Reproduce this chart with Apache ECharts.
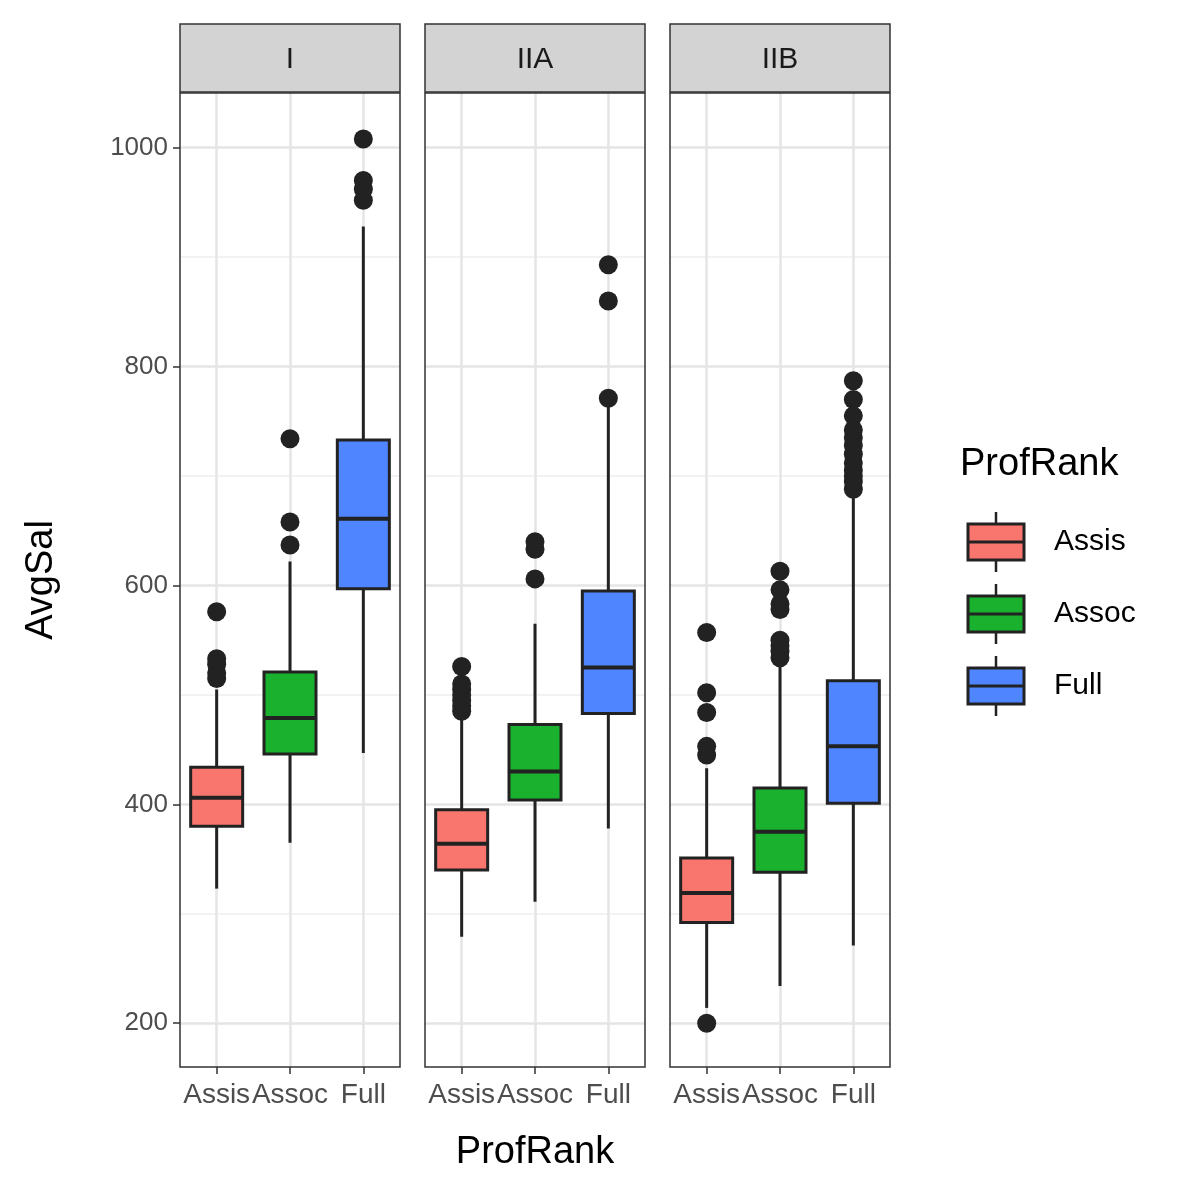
<!DOCTYPE html>
<html>
<head>
<meta charset="UTF-8">
<script src="https://cdn.jsdelivr.net/npm/echarts@6/dist/echarts.min.js"></script>
</head>
<body style="margin:0">
<div id="main" style="width:1200px;height:1200px"></div>
<script>
var panels = ['I', 'IIA', 'IIB'];
var ranks = ['Assis', 'Assoc', 'Full'];
var colors = ['#F8766D', '#1AB12F', '#4F86FF'];
var majorTicks = [200, 400, 600, 800, 1000];
var minorTicks = [300, 500, 700, 900];
// [low, q1, median, q3, high] per rank, per panel
var boxI = [[323, 380, 406, 434, 505], [365, 446, 479, 521, 622], [447, 597, 661, 733, 928]];
var boxIIA = [[279, 340, 364, 395, 480], [311, 404, 430, 473, 565], [378, 483, 525, 595, 765]];
var boxIIB = [[214, 292, 319, 351, 433], [234, 338, 375, 415, 528], [271, 401, 453, 513, 680]];
var outI = [[515, 520, 528, 533, 576], [637, 658, 734], [952, 962, 970, 1008]];
var outIIA = [[485, 490, 495, 500, 505, 510, 526], [606, 633, 640], [771, 860, 893]];
var outIIB = [[200, 445, 453, 484, 502, 557], [534, 540, 545, 550, 578, 583, 596, 613], [688, 695, 700, 705, 712, 720, 728, 735, 742, 755, 770, 787]];
var boxes = [boxI, boxIIA, boxIIB];
var outs = [outI, outIIA, outIIB];

var lefts = [180, 425, 670];
var grids = [], xAxes = [], yAxes = [], series = [], graphics = [];

function renderBox(params, api) {
  var x = api.value(0);
  var lo = api.coord([x, api.value(1)]), q1 = api.coord([x, api.value(2)]),
      md = api.coord([x, api.value(3)]), q3 = api.coord([x, api.value(4)]),
      hi = api.coord([x, api.value(5)]);
  var w = 52, cx = lo[0];
  var st = {stroke: '#222', lineWidth: 3};
  return {type: 'group', children: [
    {type: 'line', shape: {x1: cx, y1: lo[1], x2: cx, y2: hi[1]}, style: st},
    {type: 'rect', shape: {x: cx - w / 2, y: q3[1], width: w, height: q1[1] - q3[1]},
      style: {fill: colors[x], stroke: '#222', lineWidth: 3}},
    {type: 'line', shape: {x1: cx - w / 2, y1: md[1], x2: cx + w / 2, y2: md[1]}, style: {stroke: '#222', lineWidth: 4}}
  ]};
}

panels.forEach(function (p, i) {
  grids.push({left: lefts[i], top: 93, width: 220, height: 974});
  xAxes.push({type: 'category', gridIndex: i, data: ranks, boundaryGap: true,
    axisLine: {show: false}, axisTick: {show: true, alignWithLabel: true, length: 7, lineStyle: {color: '#333', width: 1.5}},
    axisLabel: {color: '#4d4d4d', fontSize: 28, margin: 14, fontFamily: 'Liberation Sans', interval: 0},
    splitLine: {show: false}});
  yAxes.push({type: 'value', gridIndex: i, min: 160, max: 1050,
    axisLine: {show: false},
    axisTick: {show: i === 0, length: 7, customValues: majorTicks, lineStyle: {color: '#333', width: 1.5}},
    axisLabel: {show: i === 0, color: '#4d4d4d', fontSize: 26, margin: 12, fontFamily: 'Liberation Sans',
      customValues: majorTicks, formatter: function (v) { return String(v); }},
    splitLine: {show: false}});
  var lines = [];
  majorTicks.forEach(function (v) { lines.push({yAxis: v, lineStyle: {color: '#e5e5e5', width: 2.5}}); });
  minorTicks.forEach(function (v) { lines.push({yAxis: v, lineStyle: {color: '#eeeeee', width: 1.5}}); });
  ranks.forEach(function (r) { lines.push({xAxis: r, lineStyle: {color: '#e5e5e5', width: 2.5}}); });
  series.push({type: 'custom', xAxisIndex: i, yAxisIndex: i, renderItem: renderBox, z: 3,
    data: boxes[i].map(function (b, k) { return [k].concat(b); }),
    markLine: {silent: true, symbol: 'none', label: {show: false}, lineStyle: {type: 'solid'}, data: lines, z: 1}});
  var pts = [];
  outs[i].forEach(function (arr, k) { arr.forEach(function (v) { pts.push([ranks[k], v]); }); });
  series.push({type: 'scatter', xAxisIndex: i, yAxisIndex: i, data: pts, symbolSize: 19,
    itemStyle: {color: '#222', opacity: 1}, z: 5});
  graphics.push({type: 'rect', z: 100, shape: {x: lefts[i], y: 93, width: 220, height: 974},
    style: {fill: 'none', stroke: '#333', lineWidth: 1.5}});
  graphics.push({type: 'rect', shape: {x: lefts[i], y: 24, width: 220, height: 68},
    style: {fill: '#d3d3d3', stroke: '#333', lineWidth: 1.5}});
  graphics.push({type: 'text', x: lefts[i] + 110, y: 60,
    style: {text: p, fontSize: 30, fill: '#1a1a1a', align: 'center', verticalAlign: 'middle', fontFamily: 'Liberation Sans'}});
});

graphics.push({type: 'text', x: 535, y: 1153, style: {text: 'ProfRank', fontSize: 38, fill: '#000', align: 'center', verticalAlign: 'middle', fontFamily: 'Liberation Sans'}});
graphics.push({type: 'text', x: 42, y: 580, rotation: Math.PI / 2, style: {text: 'AvgSal', fontSize: 38, fill: '#000', align: 'center', verticalAlign: 'middle', fontFamily: 'Liberation Sans'}});
graphics.push({type: 'text', x: 960, y: 465, style: {text: 'ProfRank', fontSize: 38, fill: '#000', verticalAlign: 'middle', fontFamily: 'Liberation Sans'}});
ranks.forEach(function (r, k) {
  var cy = 542 + k * 72;
  graphics.push({type: 'line', shape: {x1: 996, y1: cy - 30, x2: 996, y2: cy + 30}, style: {stroke: '#222', lineWidth: 2.5}});
  graphics.push({type: 'rect', shape: {x: 968, y: cy - 18, width: 56, height: 36}, style: {fill: colors[k], stroke: '#222', lineWidth: 3}});
  graphics.push({type: 'line', shape: {x1: 968, y1: cy, x2: 1024, y2: cy}, style: {stroke: '#222', lineWidth: 3}});
  graphics.push({type: 'text', x: 1054, y: cy, style: {text: r, fontSize: 30, fill: '#000', verticalAlign: 'middle', fontFamily: 'Liberation Sans'}});
});

var myChart = echarts.init(document.getElementById('main'));
myChart.setOption({
  animation: false,
  backgroundColor: '#fff',
  grid: grids, xAxis: xAxes, yAxis: yAxes, series: series, graphic: graphics
});
</script>
</body>
</html>
